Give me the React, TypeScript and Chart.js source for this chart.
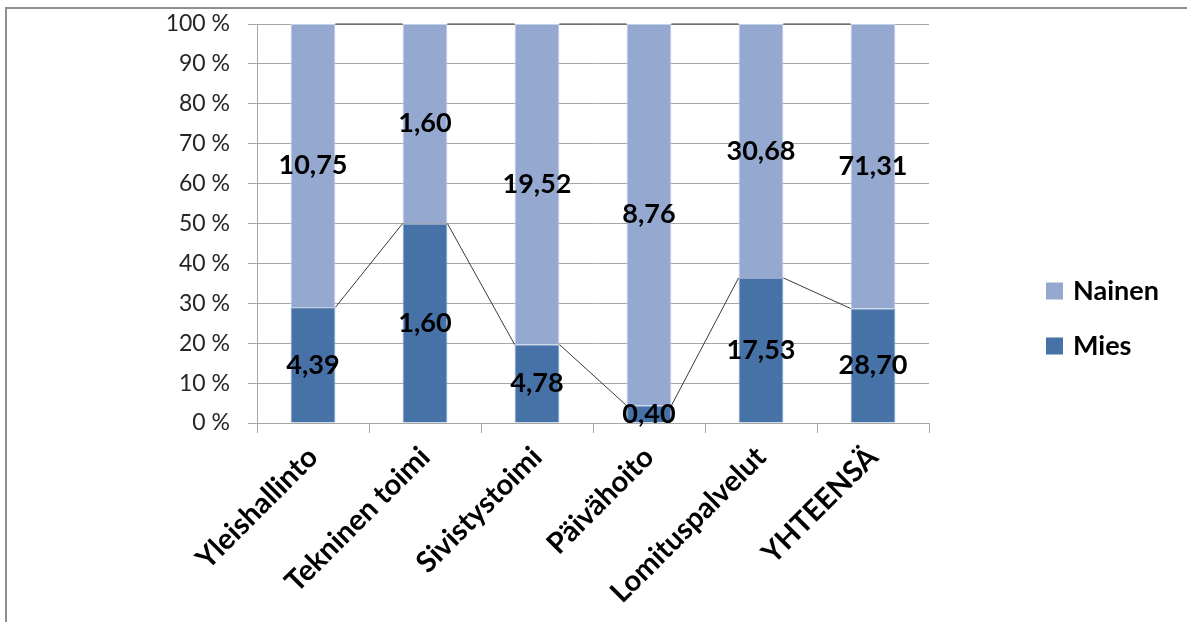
import React, { useEffect, useRef } from "react";
import { Chart, registerables } from "chart.js";

Chart.register(...registerables);

// Henkilöstö toimialoittain (henkilötyövuosia), miehet ja naiset
const categories = [
  "Yleishallinto",
  "Tekninen toimi",
  "Sivistystoimi",
  "Päivähoito",
  "Lomituspalvelut",
  "YHTEENSÄ",
];
const miesValues = [4.39, 1.6, 4.78, 0.4, 17.53, 28.7];
const nainenValues = [10.75, 1.6, 19.52, 8.76, 30.68, 71.31];
const yTicks = [0, 10, 20, 30, 40, 50, 60, 70, 80, 90, 100];

const MIES_COLOR = "#4672a8";
const NAINEN_COLOR = "#95a9d0";
const FONT = "Lato, 'Open Sans', sans-serif";

// share of each value within its category, for the 100 % stacked bars
const toShare = (own: number[], other: number[]) =>
  own.map((v, i) => (v / (v + other[i])) * 100);

const fmt = (v: number) => v.toFixed(2).replace(".", ",");

// Frame around the chart
const framePlugin = {
  id: "frame",
  beforeDraw(chart: any) {
    const { ctx, width, height } = chart;
    ctx.save();
    ctx.strokeStyle = "#8e8e8e";
    ctx.lineWidth = 2;
    ctx.beginPath();
    ctx.moveTo(6, height);
    ctx.lineTo(6, 8);
    ctx.lineTo(width, 8);
    ctx.stroke();
    ctx.restore();
  },
};

// Series lines joining the tops of neighbouring stacked segments
const seriesLinesPlugin = {
  id: "seriesLines",
  afterDatasetsDraw(chart: any) {
    const { ctx } = chart;
    ctx.save();
    ctx.strokeStyle = "#3a3a3a";
    ctx.lineWidth = 1;
    chart.data.datasets.forEach((_: any, di: number) => {
      const bars = chart.getDatasetMeta(di).data;
      for (let i = 0; i < bars.length - 1; i++) {
        const a = bars[i];
        const b = bars[i + 1];
        ctx.beginPath();
        ctx.moveTo(a.x + a.width / 2, a.y);
        ctx.lineTo(b.x - b.width / 2, b.y);
        ctx.stroke();
      }
    });
    ctx.restore();
  },
};

// Value labels in the middle of each segment
const valueLabelsPlugin = {
  id: "valueLabels",
  afterDraw(chart: any) {
    const { ctx } = chart;
    ctx.save();
    ctx.fillStyle = "#000";
    ctx.font = `bold 27px ${FONT}`;
    ctx.textAlign = "center";
    ctx.textBaseline = "middle";
    chart.data.datasets.forEach((ds: any, di: number) => {
      const bars = chart.getDatasetMeta(di).data;
      bars.forEach((bar: any, i: number) => {
        const y = (bar.y + bar.base) / 2;
        ctx.fillText(fmt(ds.rawValues[i]), bar.x, y);
      });
    });
    ctx.restore();
  },
};

// Legend at the right, Nainen above Mies
const legendPlugin = {
  id: "sideLegend",
  afterDraw(chart: any) {
    const { ctx } = chart;
    const items = [1, 0].map((di) => chart.data.datasets[di]);
    ctx.save();
    ctx.font = `bold 27px ${FONT}`;
    ctx.textBaseline = "middle";
    ctx.textAlign = "left";
    items.forEach((ds: any, k: number) => {
      const cy = 291 + k * 55;
      ctx.fillStyle = ds.backgroundColor;
      ctx.fillRect(1046, cy - 8.5, 17, 17);
      ctx.fillStyle = "#000";
      ctx.fillText(ds.label, 1073, cy);
    });
    ctx.restore();
  },
};

export default function App() {
  const canvasRef = useRef<HTMLCanvasElement | null>(null);

  useEffect(() => {
    if (!canvasRef.current) return;
    const chart = new Chart(canvasRef.current, {
      type: "bar",
      data: {
        labels: categories,
        datasets: [
          {
            label: "Mies",
            data: toShare(miesValues, nainenValues),
            rawValues: miesValues,
            backgroundColor: MIES_COLOR,
            borderColor: "#8fa8cc",
            borderWidth: 1,
            barPercentage: 0.4,
            categoryPercentage: 1,
          } as any,
          {
            label: "Nainen",
            data: toShare(nainenValues, miesValues),
            rawValues: nainenValues,
            backgroundColor: NAINEN_COLOR,
            borderColor: "#c2d0e8",
            borderWidth: 1,
            barPercentage: 0.4,
            categoryPercentage: 1,
          } as any,
        ],
      },
      options: {
        responsive: false,
        animation: false,
        layout: { padding: { top: 24, right: 258, left: 0, bottom: 0 } },
        plugins: {
          legend: { display: false },
          tooltip: { enabled: false },
        },
        scales: {
          x: {
            stacked: true,
            afterFit(scale: any) {
              scale.height = 199;
            },
            grid: {
              offset: true,
              drawOnChartArea: false,
              drawTicks: true,
              tickLength: 10,
              color: "#a6a6a6",
            },
            border: { display: true, color: "#a6a6a6" },
            ticks: {
              minRotation: 45,
              maxRotation: 45,
              autoSkip: false,
              padding: 7,
              color: "#000",
              font: { family: FONT, size: 29, weight: "bold" },
            },
          },
          y: {
            stacked: true,
            min: 0,
            max: 100,
            afterFit(scale: any) {
              scale.width = 257;
              scale.paddingTop = 0;
              scale.paddingBottom = 0;
            },
            afterBuildTicks(scale: any) {
              scale.ticks = yTicks.map((v) => ({ value: v }));
            },
            grid: {
              color: "#a6a6a6",
              drawTicks: true,
              tickLength: 9,
            },
            border: { display: true, color: "#a6a6a6" },
            ticks: {
              padding: 18,
              color: "#262626",
              font: { family: FONT, size: 23 },
              callback: (v: any) => `${v} %`,
            },
          },
        },
      },
      plugins: [framePlugin, seriesLinesPlugin, valueLabelsPlugin, legendPlugin],
    } as any);
    return () => chart.destroy();
  }, []);

  return (
    <div style={{ position: "absolute", left: 0, top: 0, width: 1187, height: 622, background: "#fff" }}>
      <canvas ref={canvasRef} width={1187} height={622} style={{ display: "block" }} />
    </div>
  );
}
